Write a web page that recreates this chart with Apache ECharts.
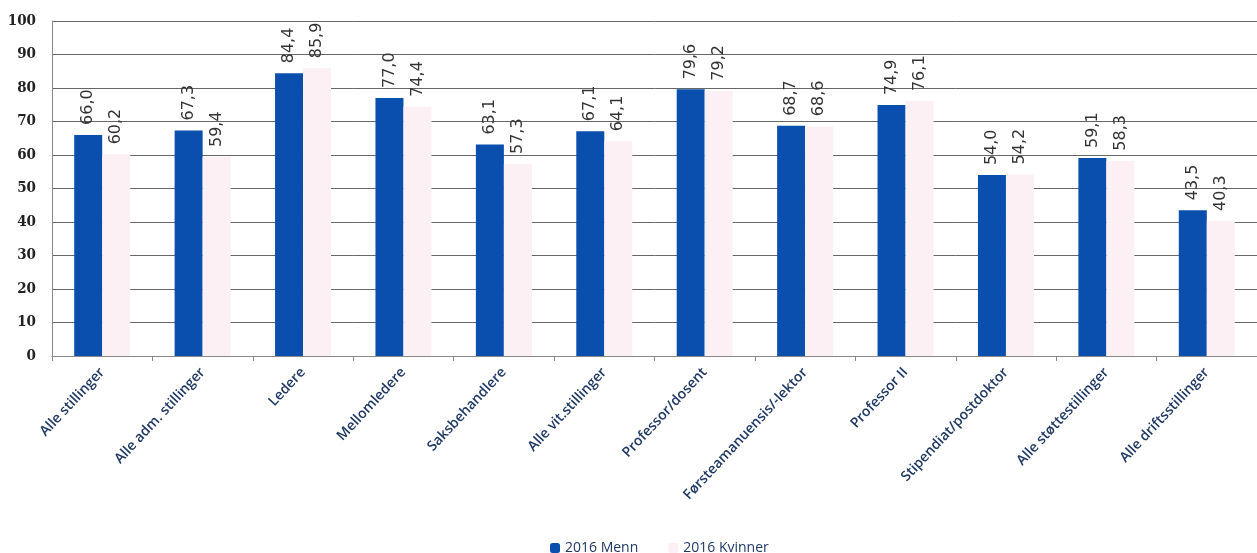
<!DOCTYPE html>
<html>
<head>
<meta charset="utf-8">
<script src="https://cdn.jsdelivr.net/npm/echarts@6/dist/echarts.min.js"></script>
<style>
  html, body { margin: 0; padding: 0; background: #fff; }
  #main { width: 1257px; height: 553px; }
</style>
</head>
<body>
<div id="main"></div>
<script>
var kategorier = ["Alle stillinger", "Alle adm. stillinger", "Ledere", "Mellomledere", "Saksbehandlere",
    "Alle vit.stillinger", "Professor/dosent", "Førsteamanuensis/-lektor", "Professor II",
    "Stipendiat/postdoktor", "Alle støttestillinger", "Alle driftsstillinger"];
var menn = [66.0, 67.3, 84.4, 77.0, 63.1, 67.1, 79.6, 68.7, 74.9, 54.0, 59.1, 43.5];
var kvinner = [60.2, 59.4, 85.9, 74.4, 57.3, 64.1, 79.2, 68.6, 76.1, 54.2, 58.3, 40.3];
var yTicks = [0, 10, 20, 30, 40, 50, 60, 70, 80, 90, 100];

// verdi med komma
function komma(p) {
    return p.value.toFixed(1).replace('.', ',');
}

var etikett = {
    show: true,
    position: 'top',
    rotate: 90,
    align: 'left',
    verticalAlign: 'middle',
    distance: 10,
    fontFamily: 'DejaVu Sans',
    fontSize: 16,
    color: '#333',
    formatter: komma
};

var myChart = echarts.init(document.getElementById('main'));
var option = {
    animation: false,
    legend: {
        top: 536,
        left: 545,
        itemWidth: 10,
        itemHeight: 10,
        itemGap: 30,
        textStyle: { fontFamily: 'Open Sans', fontSize: 14, color: '#1f3864' },
        data: ['2016 Menn', '2016 Kvinner']
    },
    grid: {
        left: 52,
        top: 21,
        width: 1224,
        height: 335
    },
    xAxis: {
        type: 'category',
        data: kategorier,
        axisLine: { lineStyle: { color: '#888' } },
        axisTick: { show: true, alignWithLabel: false, lineStyle: { color: '#888' } },
        axisLabel: {
            interval: 0,
            rotate: 47,
            margin: 14,
            fontFamily: 'Open Sans',
            fontSize: 14,
            fontWeight: 600,
            color: '#1f3864'
        }
    },
    yAxis: {
        type: 'value',
        min: yTicks[0],
        max: yTicks[yTicks.length - 1],
        interval: 10,
        axisLine: { show: true, lineStyle: { color: '#888' } },
        axisTick: { show: false },
        axisLabel: { fontFamily: 'DejaVu Serif Condensed', fontWeight: 'bold', fontSize: 15, color: '#222', margin: 16 },
        splitLine: { lineStyle: { color: '#666', width: 1 } }
    },
    series: [
        {
            name: '2016 Menn',
            type: 'bar',
            data: menn,
            barWidth: 28,
            barGap: '0%',
            itemStyle: { color: '#0a4fae' },
            label: etikett
        },
        {
            name: '2016 Kvinner',
            type: 'bar',
            data: kvinner,
            barWidth: 28,
            itemStyle: { color: '#fcf0f5' },
            label: etikett
        }
    ]
};
myChart.setOption(option);
</script>
</body>
</html>
